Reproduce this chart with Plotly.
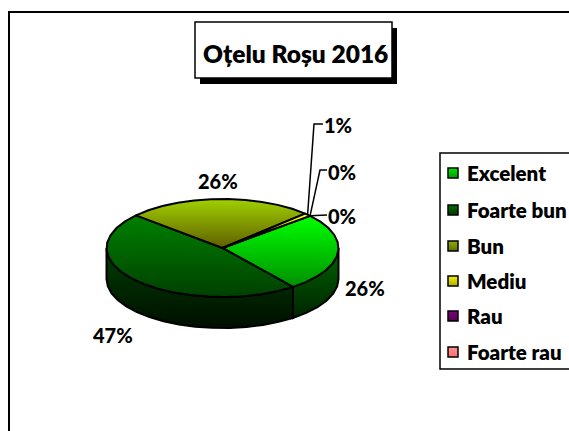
import math
import plotly.graph_objects as go

categories = ["Excelent", "Foarte bun", "Bun", "Mediu", "Rau", "Foarte rau"]
values = [26, 47, 26, 1, 0, 0]
title_text = "Oțelu Roșu 2016"

W, H = 569, 431
FONT = "Lato"
CX, CY, RX, RY, DEPTH = 222.5, 248.0, 116.0, 49.0, 31.0
START_DEG = -41.0

top_grad = {
    "Excelent": ("#00FF00", "#008F00"),
    "Foarte bun": ("#008000", "#004000"),
    "Bun": ("#A0D000", "#5F5F00"),
    "Mediu": ("#FFFF00", "#CCCC00"),
    "Rau": ("#800080", "#400040"),
    "Foarte rau": ("#FF8080", "#CC6666"),
}
side_grad = {"Excelent": ("#006400", "#002400"), "Foarte bun": ("#004000", "#000E00")}
legend_grad = {
    "Excelent": ("#00E000", "#00A000"),
    "Foarte bun": ("#007000", "#003A00"),
    "Bun": ("#90B000", "#607000"),
    "Mediu": ("#F0F000", "#B0B000"),
    "Rau": ("#800080", "#500050"),
    "Foarte rau": ("#FF9090", "#FF7070"),
}
# label placement: (x, y) in page pixels, with optional leader elbow
label_layout = [
    (365, 288, None), (113, 335, None), (218, 181, None),
    (338, 125, (314, 124)), (342, 172, (320, 170)), (342, 216, (327, 215)),
]
legend_rows = [173, 210, 246, 281, 316, 352]


def pt(t, dz=0.0):
    a = math.radians(t)
    return CX + RX * math.cos(a), CY + RY * math.sin(a) + dz


def arc(t0, t1, dz=0.0):
    n = max(2, int(abs(t1 - t0) / 9.0) + 2)
    return [pt(t0 + (t1 - t0) * i / (n - 1), dz) for i in range(n)]


def poly(points, grad, width=2.0):
    xs = [p[0] for p in points] + [points[0][0]]
    ys = [p[1] for p in points] + [points[0][1]]
    return go.Scatter(
        x=xs, y=ys, mode="lines", fill="toself",
        fillgradient=dict(type="vertical", colorscale=[[0, grad[1]], [1, grad[0]]]),
        line=dict(color="#000000", width=width), hoverinfo="skip", showlegend=False,
    )


total = sum(values)
spans = []
t = START_DEG
for v in values:
    spans.append((t, t + v / total * 360.0))
    t += v / total * 360.0

fig = go.Figure()
for name, (a, b) in zip(categories, spans):
    lo, hi = max(a, 0.0), min(b, 180.0)
    if hi > lo:
        fig.add_trace(poly(arc(lo, hi) + arc(hi, lo, DEPTH), side_grad[name]))
for name, (a, b), v in zip(categories, spans, values):
    if v > 0:
        fig.add_trace(poly([(CX, CY)] + arc(a, b), top_grad[name]))

annotations = []
for v, (a, b), (lx, ly, elbow) in zip(values, spans, label_layout):
    annotations.append(dict(x=lx, y=ly, xref="x", yref="y", text=f"{v / total * 100:.0f}%",
                            showarrow=False, font=dict(family=FONT, size=20, weight=900, color="#000000")))
    if elbow:
        sx, sy = pt((a + b) / 2)
        fig.add_trace(go.Scatter(x=[sx, elbow[0], lx - 15], y=[sy, elbow[1], elbow[1]], mode="lines",
                                 line=dict(color="#000000", width=1.5), hoverinfo="skip", showlegend=False))

shapes = [
    dict(type="rect", x0=9, y0=12, x1=640, y1=500, line=dict(color="#000000", width=2), layer="below"),
    dict(type="rect", x0=200, y0=28, x1=397, y1=84, fillcolor="#000000", line=dict(width=0), layer="below"),
    dict(type="rect", x0=195, y0=22, x1=392, y1=78, fillcolor="#FFFFFF",
         line=dict(color="#000000", width=1.5), layer="below"),
    dict(type="rect", x0=440, y0=153, x1=640, y1=369, fillcolor="#FFFFFF",
         line=dict(color="#000000", width=1.5), layer="below"),
]
annotations.append(dict(x=295, y=53, xref="x", yref="y", text=title_text, showarrow=False,
                        font=dict(family=FONT, size=24.5, weight=800, color="#000000")))
for name, y in zip(categories, legend_rows):
    annotations.append(dict(x=467, y=y, xref="x", yref="y", xanchor="left", xshift=-2, text=name,
                            showarrow=False, font=dict(family=FONT, size=20.5, weight=800, color="#000000")))
    fig.add_trace(go.Scatter(
        x=[453], y=[y], mode="markers", hoverinfo="skip", showlegend=False,
        marker=dict(symbol="square", size=10, color=legend_grad[name][0],
                    gradient=dict(type="vertical", color=legend_grad[name][1]),
                    line=dict(color="#000000", width=1.5)),
    ))

fig.update_layout(
    width=W, height=H, margin=dict(l=0, r=0, t=0, b=0), autosize=False,
    paper_bgcolor="#FFFFFF", plot_bgcolor="#FFFFFF",
    xaxis=dict(range=[0, W], visible=False, fixedrange=True),
    yaxis=dict(range=[H, 0], visible=False, fixedrange=True),
    shapes=shapes, annotations=annotations, showlegend=False,
)
fig.write_html("out.html", config={"displayModeBar": False},
               post_script="document.body.style.margin='0';document.body.style.overflow='hidden';")
